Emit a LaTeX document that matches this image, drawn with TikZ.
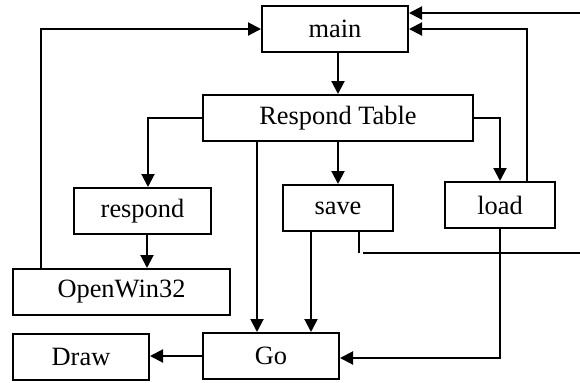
\documentclass[tikz,border=0pt]{standalone}
\usepackage{fontspec}
\setmainfont{Liberation Serif}
\usetikzlibrary{arrows.meta}
\begin{document}
\begin{tikzpicture}[x=0.5pt,y=-0.5pt,
  line width=1pt,
  box/.style 2 args={draw, rectangle, inner sep=0pt, minimum width=#1*0.5pt, minimum height=#2*0.5pt, font=\fontsize{13.2}{15}\selectfont},
  arr/.style={-{Triangle[length=6.5pt,width=6.5pt]}}]
\useasboundingbox (0,0) rectangle (580,382);
\node[box={146}{46}] (main) at (335,29) {main};
\node[box={270}{46}] (RT) at (338,118) {Respond Table};
\node[box={137}{46}] (respond) at (142.5,211) {respond};
\node[box={110}{46}] (save) at (338,208) {save};
\node[box={110}{46}] (load) at (500,205) {load};
\node[box={217}{46}] (open) at (121.5,292) {OpenWin32};
\node[box={136}{46}] (draw) at (81,357) {Draw};
\node[box={136}{46}] (go) at (271,356) {Go};
\coordinate (gin) at ([xshift=-7pt]go.north);
\coordinate (gin2) at ([xshift=20pt]go.north);
\coordinate (rin) at ([xshift=2.75pt]respond.north);
\coordinate (rout) at ([xshift=2.25pt]respond.south);
\coordinate (rtop) at (580,13);
\coordinate (hs) at (363,253);
\coordinate (he) at (580,253);
% connectors
\draw[arr] (main.south -| RT.north) -- (RT.north);
\draw[arr] (RT.west) -| (rin);
\draw[arr] (RT.east) -| (load.north);
\draw[arr] (RT.south -| save.north) -- (save.north);
\draw[arr] (RT.south -| gin) -- (gin);
\draw[arr] (rout) -- (rout |- open.north);
\draw[arr] (save.south -| gin2) -- (gin2);
\draw[arr] (load.south) |- ([yshift=-1pt]go.east);
\draw[arr] (go.west) -- (go.west -| draw.east);
\draw[arr] ([xshift=-40.5pt]open.north) |- (main.west);
\draw[arr] ([xshift=13.5pt]load.north) |- (main.east);
\draw[arr] (rtop) -- (rtop -| main.east);
\draw ([xshift=10.5pt]save.south) -- ++(0,21);
\draw (hs) -- (he);
\end{tikzpicture}
\end{document}
